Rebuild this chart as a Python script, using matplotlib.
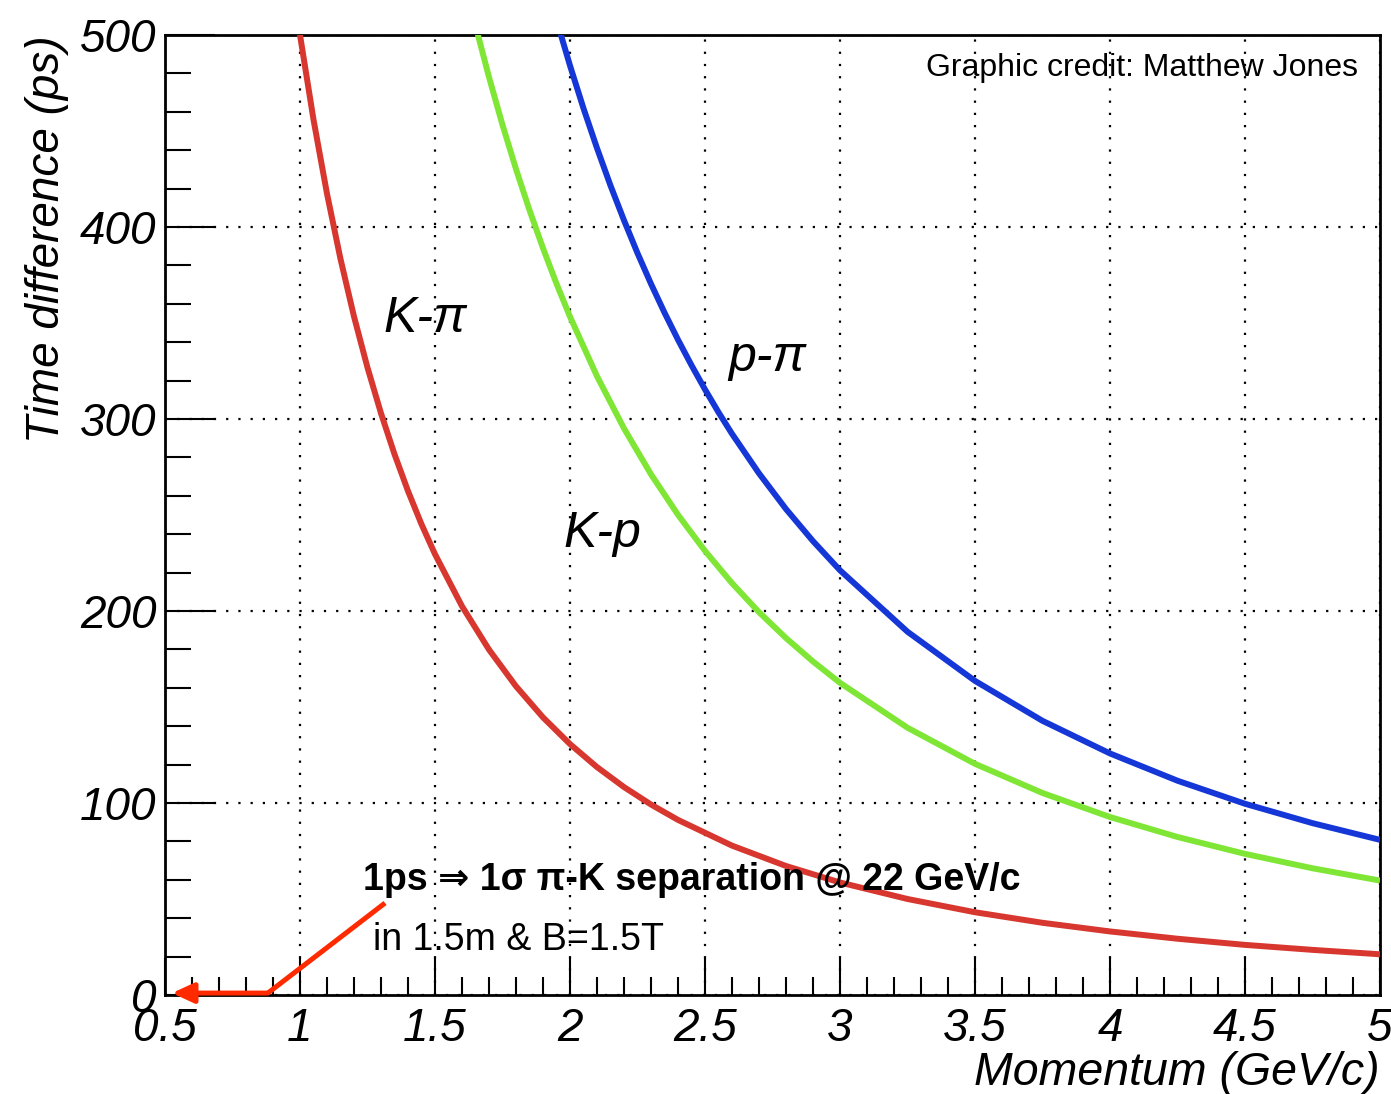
import matplotlib
matplotlib.use("Agg")
import matplotlib.pyplot as plt
from matplotlib.ticker import MultipleLocator

# Momentum (GeV/c) and time differences (ps)
p_kpi = [1.0, 1.05, 1.1, 1.15, 1.2, 1.25, 1.3, 1.35, 1.4, 1.45, 1.5, 1.6, 1.7,
         1.8, 1.9, 2.0, 2.1, 2.2, 2.3, 2.4, 2.6, 2.8, 3.0,
         3.25, 3.5, 3.75, 4.0, 4.25, 4.5, 4.75, 5.0]
t_kpi = [500.1, 456.0, 417.4, 383.4, 353.4, 326.8, 303.0, 281.7, 262.5, 245.2,
         229.6, 202.5, 179.9, 160.8, 144.6, 130.7, 118.7, 108.3, 99.2, 91.2,
         77.8, 67.2, 58.6, 50.0, 43.1, 37.6, 33.1, 29.3, 26.1, 23.5, 21.2]

p_kp = [1.65, 1.7, 1.75, 1.8, 1.85, 1.9, 1.95, 2.0, 2.1, 2.2, 2.3, 2.4, 2.5,
        2.6, 2.7, 2.8, 2.9, 3.0, 3.25, 3.5, 3.75, 4.0, 4.25, 4.5, 4.75, 5.0]
t_kp = [505.0, 478.1, 453.2, 430.2, 408.8, 389.0, 370.5, 353.3, 322.3, 295.1,
        271.2, 250.1, 231.3, 214.5, 199.4, 185.9, 173.7, 162.6, 139.2, 120.4,
        105.2, 92.7, 82.3, 73.5, 66.0, 59.6]

p_ppi = [1.95, 2.0, 2.05, 2.1, 2.15, 2.2, 2.25, 2.3, 2.35, 2.4, 2.45, 2.5,
         2.55, 2.6, 2.7, 2.8, 2.9, 3.0, 3.25, 3.5, 3.75, 4.0, 4.25, 4.5, 4.75, 5.0]
t_ppi = [507.9, 484.1, 461.8, 441.1, 421.6, 403.5, 386.4, 370.4, 355.4, 341.3,
         328.0, 315.4, 303.5, 292.3, 271.7, 253.1, 236.4, 221.2, 189.2, 163.6,
         142.8, 125.8, 111.6, 99.6, 89.5, 80.8]

x_ticks = [0.5, 1, 1.5, 2, 2.5, 3, 3.5, 4, 4.5, 5]
x_labels = ["0.5", "1", "1.5", "2", "2.5", "3", "3.5", "4", "4.5", "5"]
y_ticks = [0, 100, 200, 300, 400, 500]
y_labels = ["0", "100", "200", "300", "400", "500"]

# arrow path (annotation pointer)
arrow_x = [1.315, 0.881, 0.526]
arrow_y = [47.9, 1.0, 1.0]

FONT = "Liberation Sans"

fig = plt.figure(figsize=(13.91, 10.94), dpi=100)
ax = fig.add_axes([0.1186, 0.0905, 0.8735, 0.8775])

ax.plot(p_kpi, t_kpi, color="#d7372f", lw=4.3, solid_capstyle="butt",
        solid_joinstyle="round", zorder=3)
ax.plot(p_kp, t_kp, color="#7fe636", lw=4.3, solid_capstyle="butt",
        solid_joinstyle="round", zorder=3)
ax.plot(p_ppi, t_ppi, color="#1537d8", lw=4.3, solid_capstyle="butt",
        solid_joinstyle="round", zorder=3)

ax.set_xlim(0.5, 5)
ax.set_ylim(0, 500)

ax.set_xticks(x_ticks)
ax.set_xticklabels(x_labels)
ax.set_yticks(y_ticks)
ax.set_yticklabels(y_labels)
ax.xaxis.set_minor_locator(MultipleLocator(0.1))
ax.yaxis.set_minor_locator(MultipleLocator(20))

ax.tick_params(axis="x", which="major", direction="in", length=27, width=1.5, pad=9)
ax.tick_params(axis="x", which="minor", direction="in", length=13, width=1.5)
ax.tick_params(axis="y", which="major", direction="in", length=36, width=1.5, pad=6)
ax.tick_params(axis="y", which="minor", direction="in", length=19, width=1.5)
for lab in ax.get_xticklabels() + ax.get_yticklabels():
    lab.set_fontfamily(FONT)
    lab.set_fontstyle("italic")
    lab.set_fontsize(33)

ax.grid(True, which="major", color="black", linestyle=(0, (1, 4.5)), lw=1.6)
for s in ax.spines.values():
    s.set_linewidth(2)

ax.set_xlabel("Momentum (GeV/c)", fontfamily=FONT, fontstyle="italic",
              fontsize=33.5, loc="right", labelpad=0)
ax.set_ylabel("Time difference (ps)", fontfamily=FONT, fontstyle="italic",
              fontsize=33, loc="top", labelpad=8)

ax.text(1.463, 352, "K-π", fontfamily=FONT, fontstyle="italic", fontsize=36,
        ha="center", va="center")
ax.text(2.73, 332, "p-π", fontfamily=FONT, fontstyle="italic", fontsize=36,
        ha="center", va="center")
ax.text(2.12, 240, "K-p", fontfamily=FONT, fontstyle="italic", fontsize=36,
        ha="center", va="center")

ax.text(4.919, 483, "Graphic credit: Matthew Jones", fontfamily=FONT,
        fontsize=23, ha="right", va="center")

ax.text(1.233, 60, "1ps ⇒ 1σ π-K separation @ 22 GeV/c",
        fontfamily=[FONT, "DejaVu Sans"], fontweight="bold", fontsize=27,
        ha="left", va="center", zorder=4)
ax.text(1.27, 28.6, "in 1.5m & B=1.5T", fontfamily=FONT, fontsize=27,
        ha="left", va="center", zorder=4)

ax.plot(arrow_x[:2], arrow_y[:2], color="#ff2a00", lw=3.6, clip_on=False,
        zorder=5, solid_capstyle="butt")
ax.annotate("", xy=(arrow_x[2], arrow_y[2]), xytext=(arrow_x[1], arrow_y[1]),
            arrowprops=dict(arrowstyle="-|>,head_length=1.3,head_width=0.6",
                            color="#ff2a00", lw=3.6, shrinkA=0, shrinkB=0),
            annotation_clip=False, zorder=5)

fig.savefig("out.png", dpi=100)
